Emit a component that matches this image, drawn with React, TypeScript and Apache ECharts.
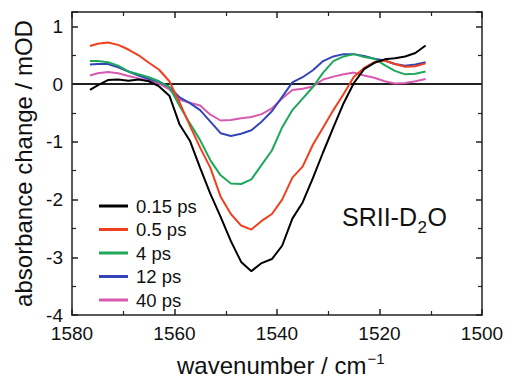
import React, { useEffect, useRef } from "react";
import * as echarts from "echarts";

const wavenumbers = [1576.5, 1575, 1573, 1571, 1569, 1567, 1565, 1563, 1561, 1559, 1557, 1555, 1553, 1551, 1549, 1547, 1545, 1543, 1541, 1539, 1537, 1535, 1533, 1531, 1529, 1527, 1525, 1523, 1521, 1519, 1517, 1515, 1513, 1511];

const seriesNames = ["0.15 ps", "0.5 ps", "4 ps", "12 ps", "40 ps"];
const seriesColors = ["#000000", "#f0401e", "#1fa85a", "#3346b8", "#d85ab0"];

const s015 = [-0.1, -0.02, 0.07, 0.08, 0.06, 0.08, 0.05, -0.04, -0.2, -0.7, -0.98, -1.45, -1.9, -2.3, -2.72, -3.08, -3.24, -3.1, -3.03, -2.8, -2.33, -2.05, -1.63, -1.18, -0.75, -0.33, 0.02, 0.26, 0.37, 0.43, 0.45, 0.48, 0.54, 0.67];
const s05 = [0.66, 0.7, 0.72, 0.68, 0.6, 0.5, 0.37, 0.25, 0.05, -0.32, -0.72, -1.1, -1.45, -1.95, -2.25, -2.45, -2.52, -2.37, -2.25, -2.0, -1.62, -1.43, -1.05, -0.75, -0.45, -0.17, 0.13, 0.28, 0.38, 0.41, 0.35, 0.3, 0.31, 0.36];
const s4 = [0.4, 0.4, 0.38, 0.32, 0.22, 0.17, 0.12, 0.05, -0.05, -0.38, -0.68, -0.97, -1.32, -1.58, -1.72, -1.73, -1.65, -1.4, -1.15, -0.75, -0.45, -0.25, -0.05, 0.2, 0.4, 0.48, 0.52, 0.47, 0.44, 0.33, 0.23, 0.17, 0.18, 0.22];
const s12 = [0.34, 0.35, 0.35, 0.29, 0.22, 0.15, 0.09, 0.04, -0.05, -0.23, -0.33, -0.45, -0.65, -0.85, -0.9, -0.86, -0.8, -0.65, -0.47, -0.22, 0.03, 0.12, 0.24, 0.4, 0.48, 0.52, 0.52, 0.49, 0.44, 0.41, 0.35, 0.32, 0.34, 0.38];
const s40 = [0.15, 0.19, 0.21, 0.19, 0.14, 0.1, 0.06, 0.01, -0.09, -0.27, -0.32, -0.37, -0.53, -0.63, -0.62, -0.59, -0.57, -0.52, -0.42, -0.25, -0.1, -0.08, -0.04, 0.08, 0.13, 0.17, 0.2, 0.15, 0.11, 0.05, 0.01, 0.02, 0.05, 0.09];

const allValues = [s015, s05, s4, s12, s40];

const xTicks = { min: 1500, max: 1580, interval: 20 };
const yTicks = { min: -4, max: 1.25, interval: 1 };

const FONT = '"Liberation Sans", Arial, Helvetica, sans-serif';

function measure(text: string, size: number): number {
  const c = document.createElement("canvas").getContext("2d");
  if (!c) return text.length * size * 0.55;
  c.font = `${size}px "Liberation Sans"`;
  return c.measureText(text).width;
}

export default function App() {
  const ref = useRef<HTMLDivElement>(null);
  useEffect(() => {
    if (!ref.current) return;
    const chart = echarts.init(ref.current, null, { renderer: "svg" });
    const axisLine = { show: true, onZero: false, lineStyle: { color: "#222", width: 1.5 } };
    const tick = { show: true, inside: true, length: 6, lineStyle: { color: "#222", width: 1.5 } };
    const minor = { show: true, splitNumber: 2, length: 4, lineStyle: { color: "#222", width: 1.2 } };

    const titleX = 342;
    const w1 = measure("SRII-D", 25);
    const w2 = measure("2", 17);
    const xnX = 177;
    const wx = measure("wavenumber / cm", 24);

    const series: any[] = allValues.map((vals, i) => ({
      name: seriesNames[i],
      type: "line",
      data: wavenumbers.map((w, j) => [w, vals[j]]),
      symbol: "none",
      lineStyle: { color: seriesColors[i], width: 2 },
      itemStyle: { color: seriesColors[i] },
      z: 10 - i,
    }));
    series[0].markLine = {
      silent: true,
      symbol: "none",
      label: { show: false },
      lineStyle: { color: "#222", width: 2, type: "solid" },
      data: [{ yAxis: 0 }],
    };

    chart.setOption({
      animation: false,
      backgroundColor: "#fff",
      textStyle: { fontFamily: FONT },
      grid: { left: 72, right: 25, top: 12, bottom: 64 },
      legend: {
        left: 94,
        top: 191,
        orient: "vertical",
        icon: "rect",
        itemWidth: 29,
        itemHeight: 3,
        itemGap: 3.5,
        data: seriesNames,
        textStyle: { fontSize: 18.5, color: "#111", lineHeight: 20, padding: [0, 0, 0, 3], fontFamily: FONT },
      },
      xAxis: [
        {
          type: "value",
          position: "bottom",
          inverse: true,
          ...xTicks,
          axisLine,
          axisTick: tick,
          minorTick: minor,
          splitLine: { show: false },
          axisLabel: { fontSize: 19, color: "#111", margin: 9, fontFamily: FONT, formatter: (v: number) => String(v) },
        },
        {
          type: "value",
          position: "top",
          inverse: true,
          ...xTicks,
          axisLine,
          axisTick: tick,
          minorTick: minor,
          splitLine: { show: false },
          axisLabel: { show: false },
        },
      ],
      yAxis: [
        {
          type: "value",
          position: "left",
          ...yTicks,
          axisLine,
          axisTick: tick,
          minorTick: minor,
          splitLine: { show: false },
          axisLabel: {
            fontSize: 19,
            color: "#111",
            margin: 9,
            fontFamily: FONT,
            formatter: (v: number) => (Number.isInteger(v) ? String(v) : ""),
          },
          name: "absorbance change / mOD",
          nameLocation: "middle",
          nameRotate: 90,
          nameGap: 31,
          nameTextStyle: { fontSize: 24, color: "#111", fontFamily: FONT },
        },
        {
          type: "value",
          position: "right",
          ...yTicks,
          axisLine,
          axisTick: tick,
          minorTick: minor,
          splitLine: { show: false },
          axisLabel: { show: false },
        },
      ],
      series,
      graphic: [
        { type: "text", x: titleX, y: 216.5, style: { text: "SRII-D", font: `25px ${FONT}`, fill: "#111", verticalAlign: "middle", align: "left" } },
        { type: "text", x: titleX + w1 + 0.5, y: 227, style: { text: "2", font: `17px ${FONT}`, fill: "#111", verticalAlign: "middle", align: "left" } },
        { type: "text", x: titleX + w1 + w2 + 1, y: 216.5, style: { text: "O", font: `25px ${FONT}`, fill: "#111", verticalAlign: "middle", align: "left" } },
        { type: "text", x: xnX, y: 365.5, style: { text: "wavenumber / cm", font: `24px ${FONT}`, fill: "#111", verticalAlign: "middle", align: "left" } },
        { type: "text", x: xnX + wx + 1, y: 358, style: { text: "\u22121", font: `15px ${FONT}`, fill: "#111", verticalAlign: "middle", align: "left" } },
      ],
    });
    return () => chart.dispose();
  }, []);
  return <div ref={ref} style={{ width: 507, height: 379, position: "absolute", left: 0, top: 0 }} />;
}
